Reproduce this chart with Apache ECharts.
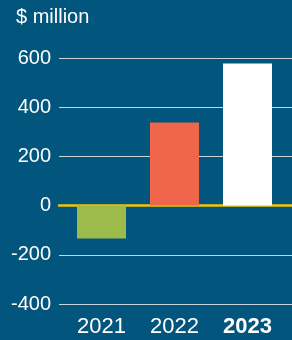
<!DOCTYPE html>
<html>
<head>
<meta charset="UTF-8">
<title>$ million</title>
<script src="https://cdn.jsdelivr.net/npm/echarts@6/dist/echarts.min.js"></script>
<style>
html, body { margin: 0; padding: 0; background: #02557c; }
#main { width: 292px; height: 340px; }
</style>
</head>
<body>
<div id="main"></div>
<script>
var years = ['2021', '2022', '2023'];
var values = [-134, 338, 578];
var barColors = ['#9dbb4a', '#f0664b', '#ffffff'];
var yTicks = [-400, -200, 0, 200, 400, 600];

var chart = echarts.init(document.getElementById('main'), null, {renderer: 'canvas'});

var option = {
    backgroundColor: '#02557c',
    animation: false,
    textStyle: { fontFamily: 'Liberation Sans' },
    title: {
        text: '$ million',
        left: 11,
        top: 2,
        textStyle: { color: '#ffffff', fontSize: 20, fontWeight: 'normal', fontFamily: 'Liberation Sans' }
    },
    grid: [
        // gridlines and y labels
        { left: 59, right: 0, top: 58, bottom: 36 },
        // bars
        { left: 65, right: 8, top: 58, bottom: 36 }
    ],
    xAxis: [
        {
            gridIndex: 0,
            type: 'category',
            data: years,
            axisLine: { onZero: true, lineStyle: { color: '#f5c400', width: 2.5 } },
            axisTick: { show: false },
            axisLabel: { show: false },
            z: 1
        },
        {
            gridIndex: 1,
            type: 'category',
            data: years,
            axisLine: { show: false },
            axisTick: { show: false },
            axisLabel: {
                color: '#ffffff',
                fontSize: 22,
                margin: 12,
                interval: 0,
                hideOverlap: false,
                fontFamily: 'Liberation Sans',
                formatter: function (v) { return v === '2023' ? '{b|' + v + '}' : v; },
                rich: { b: { fontWeight: 'bold', fontSize: 22, color: '#ffffff', fontFamily: 'Liberation Sans' } }
            }
        }
    ],
    yAxis: [
        {
            gridIndex: 0,
            type: 'value',
            min: yTicks[0],
            max: yTicks[yTicks.length - 1],
            interval: 200,
            axisLine: { show: false },
            axisTick: { show: false },
            axisLabel: { color: '#ffffff', fontSize: 20, margin: 8, fontFamily: 'Liberation Sans' },
            splitLine: { lineStyle: { color: '#c9d3dc', width: 1 } }
        },
        {
            gridIndex: 1,
            type: 'value',
            min: yTicks[0],
            max: yTicks[yTicks.length - 1],
            interval: 200,
            show: false,
            splitLine: { show: false }
        }
    ],
    series: [{
        type: 'bar',
        xAxisIndex: 1,
        yAxisIndex: 1,
        barWidth: 49,
        z: 3,
        data: values.map(function (v, i) {
            return { value: v, itemStyle: { color: barColors[i] } };
        })
    }]
};

chart.setOption(option);
</script>
</body>
</html>
